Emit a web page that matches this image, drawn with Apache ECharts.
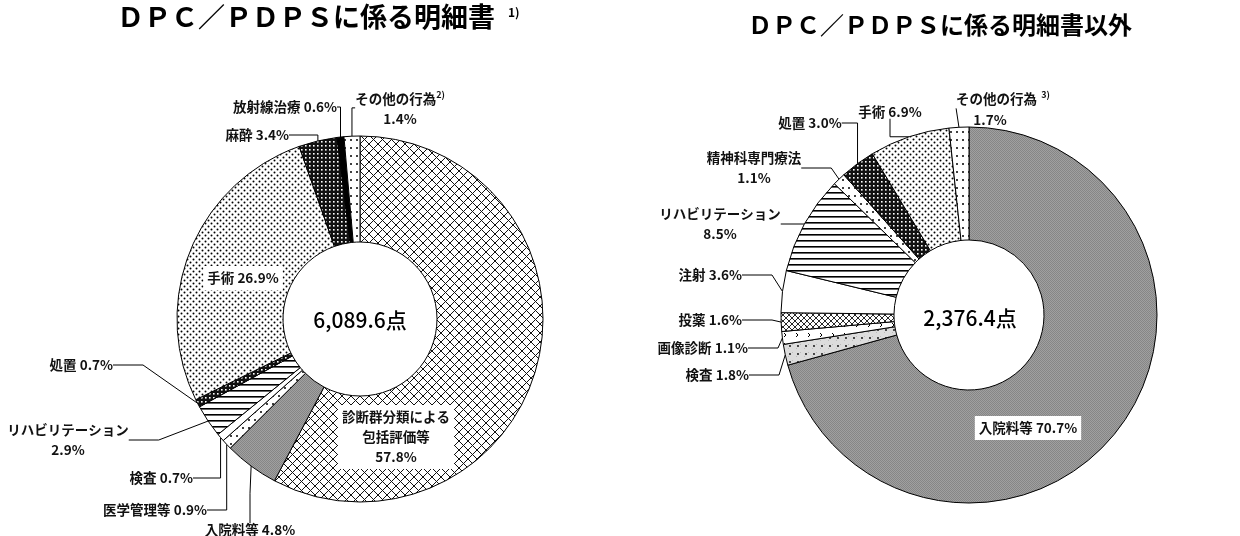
<!DOCTYPE html>
<html>
<head>
<meta charset="utf-8">
<script src="https://cdn.jsdelivr.net/npm/echarts@6/dist/echarts.min.js"></script>
<style>
  html, body { margin: 0; padding: 0; background: #fff; }
  #chart { width: 1240px; height: 536px; }
</style>
</head>
<body>
<div id="chart"></div>
<script>
// 左：DPC／PDPSに係る明細書
var leftNames = ["診断群分類による包括評価等", "入院料等", "医学管理等", "検査", "リハビリテーション",
	"処置", "手術", "麻酔", "放射線治療", "その他の行為"];
var leftValues = [57.8, 4.8, 0.9, 0.7, 2.9, 0.7, 26.9, 3.4, 0.6, 1.4];
var leftTotal = "6,089.6点";

// 右：DPC／PDPSに係る明細書以外
var rightNames = ["入院料等", "検査", "画像診断", "投薬", "注射", "リハビリテーション",
	"精神科専門療法", "処置", "手術", "その他の行為"];
var rightValues = [70.7, 1.8, 1.1, 1.6, 3.6, 8.5, 1.1, 3.0, 6.9, 1.7];
var rightTotal = "2,376.4点";

var FONT = '"Noto Sans CJK JP", sans-serif';

//パターン作成
function tile(w, h, bg, draw) {
	var c = document.createElement("canvas");
	c.width = w;
	c.height = h;
	var g = c.getContext("2d");
	g.fillStyle = bg;
	g.fillRect(0, 0, w, h);
	draw && draw(g, w, h);
	return { image: c, repeat: "repeat" };
}
function dot(g, x, y, r, col) {
	g.fillStyle = col || "#000";
	g.beginPath();
	g.arc(x, y, r, 0, Math.PI * 2);
	g.fill();
}
var fills = {
	cross: tile(9, 9, "#fff", function(g) {
		g.strokeStyle = "#111";
		g.lineWidth = 1;
		g.beginPath();
		g.moveTo(0, 0); g.lineTo(9, 9);
		g.moveTo(9, 0); g.lineTo(0, 9);
		g.stroke();
	}),
	smallCross: tile(6, 6, "#fff", function(g) {
		g.strokeStyle = "#111";
		g.lineWidth = 0.9;
		g.beginPath();
		g.moveTo(0, 0); g.lineTo(6, 6);
		g.moveTo(6, 0); g.lineTo(0, 6);
		g.stroke();
	}),
	gray: tile(2, 2, "#a0a0a0", function(g) {
		g.fillStyle = "#868686";
		g.fillRect(0, 0, 1, 1);
		g.fillRect(1, 1, 1, 1);
	}),
	dots: tile(6, 6, "#fff", function(g) {
		dot(g, 1.5, 1.5, 1);
		dot(g, 4.5, 4.5, 1);
	}),
	sparse: tile(6, 8, "#fff", function(g) {
		dot(g, 3, 4, 1);
	}),
	darkCheck: tile(4, 4, "#111", function(g) {
		g.fillStyle = "#fff";
		g.fillRect(1, 1, 1.6, 1.6);
	}),
	hlines: tile(6, 6, "#fff", function(g) {
		g.fillStyle = "#000";
		g.fillRect(0, 0, 6, 1.6);
	}),
	stipple: tile(8, 8, "#dcdcdc", function(g) {
		g.fillStyle = "#bbb";
		g.fillRect(0, 0, 1, 1);
		g.fillRect(4, 4, 1, 1);
		dot(g, 6, 2, 0.9);
	}),
	marks: tile(12, 10, "#fff", function(g) {
		g.strokeStyle = "#000";
		g.lineWidth = 1;
		g.beginPath();
		g.moveTo(4, 3); g.lineTo(6, 5); g.lineTo(4, 7);
		g.stroke();
	}),
	white: "#fff",
	black: "#000"
};

var leftFills = ["cross", "gray", "sparse", "white", "hlines", "darkCheck", "dots", "darkCheck", "black", "sparse"];
var rightFills = ["gray", "stipple", "marks", "smallCross", "white", "hlines", "sparse", "darkCheck", "dots", "sparse"];

//ラベル書式
var leftForms = ["{a|診断群分類による}\n{a|包括評価等}\n{a|{v}}", "{a|{n} {v}}", "{a|{n} {v}}", "{a|{n} {v}}",
	"{a|{n}}\n{a|{v}}", "{a|{n} {v}}", "{a|{n} {v}}", "{a|{n} {v}}", "{a|{n} {v}}", "{a|{n}}{s|2)}\n{a|{v}}"];
var rightForms = ["{a|{n} {v}}", "{a|{n} {v}}", "{a|{n} {v}}", "{a|{n} {v}}", "{a|{n} {v}}", "{a|{n}}\n{a|{v}}",
	"{a|{n}}\n{a|{v}}", "{a|{n} {v}}", "{a|{n} {v}}", "{a|{n}}{s|  3)}\n{b|{v}}"];

//ラベル位置 [x, y, align]
var leftPos = [
	[396, 437, "center"], [250, 530, "center"], [207, 510, "right"], [193, 478, "right"],
	[68, 440, "center"], [113, 365, "right"], [243, 278, "center"], [289, 135, "right"],
	[337, 107, "right"], [400, 109, "center"]
];
var rightPos = [
	[1028, 428, "center"], [749, 375, "right"], [748, 348, "right"], [742, 320, "right"],
	[742, 275, "right"], [720, 224, "center"], [754, 168, "center"], [810, 123, "center"],
	[890, 112, "center"], [1003, 110, "center"]
];
var leftInside = [0, 6];
var rightInside = [0];

function buildData(names, values, fillKeys, inside) {
	return names.map(function(n, i) {
		var item = {
			name: n,
			value: values[i],
			itemStyle: { color: fills[fillKeys[i]] }
		};
		if (inside.indexOf(i) >= 0) {
			item.label = { backgroundColor: "#fff", padding: [2, 4] };
			item.labelLine = { show: false };
		}
		return item;
	});
}

function makeSeries(names, values, fillKeys, inside, forms, pos, center, radius) {
	return {
		type: "pie",
		center: center,
		radius: radius,
		startAngle: 90,
		clockwise: true,
		silent: true,
		animation: false,
		avoidLabelOverlap: false,
		itemStyle: { borderColor: "#000", borderWidth: 1 },
		label: {
			show: true,
			position: "outside",
			color: "#000",
			fontFamily: FONT,
			formatter: function(p) {
				return forms[p.dataIndex].replace("{n}", p.name).replace("{v}", p.value.toFixed(1) + "%");
			},
			rich: {
				a: { fontFamily: FONT, fontSize: 13.5, fontWeight: "bold", color: "#111", lineHeight: 20 },
				b: { fontFamily: FONT, fontSize: 13.5, fontWeight: "bold", color: "#111", lineHeight: 22, padding: [0, 26, 0, 0] },
				s: { fontFamily: FONT, fontSize: 9, fontWeight: "bold", color: "#111", padding: [0, 0, 9, 0] }
			}
		},
		labelLine: {
			show: true,
			smooth: false,
			lineStyle: { color: "#000", width: 1 }
		},
		labelLayout: function(p) {
			var q = pos[p.dataIndex];
			return { x: q[0], y: q[1], align: q[2], verticalAlign: "middle" };
		},
		data: buildData(names, values, fillKeys, inside)
	};
}

var chart = echarts.init(document.getElementById("chart"));
chart.setOption({
	backgroundColor: "#fff",
	animation: false,
	graphic: [
		{ type: "text", x: 117, y: 17, style: { text: "ＤＰＣ／ＰＤＰＳに係る明細書", font: 'bold 27px ' + FONT, fill: "#000", verticalAlign: "middle" } },
		{ type: "text", x: 508, y: 12, style: { text: "1)", font: 'bold 12px ' + FONT, fill: "#000", verticalAlign: "middle" } },
		{ type: "text", x: 748, y: 25, style: { text: "ＤＰＣ／ＰＤＰＳに係る明細書以外", font: 'bold 24px ' + FONT, fill: "#000", verticalAlign: "middle" } },
		{ type: "text", x: 360, y: 320, style: { text: leftTotal, font: '500 21px ' + FONT, fill: "#000", align: "center", verticalAlign: "middle" } },
		{ type: "text", x: 970, y: 318, style: { text: rightTotal, font: '500 21px ' + FONT, fill: "#000", align: "center", verticalAlign: "middle" } }
	],
	series: [
		makeSeries(leftNames, leftValues, leftFills, leftInside, leftForms, leftPos, [360, 319], [77, 183]),
		makeSeries(rightNames, rightValues, rightFills, rightInside, rightForms, rightPos, [969, 315], [75, 188])
	]
});
</script>
</body>
</html>
